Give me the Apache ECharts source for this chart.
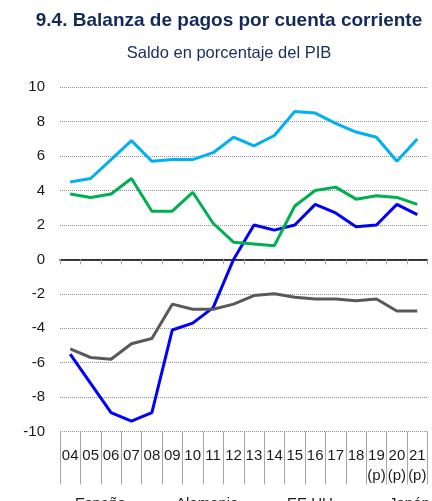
<!DOCTYPE html>
<html>
<head>
<meta charset="utf-8">
<script src="https://cdn.jsdelivr.net/npm/echarts@6/dist/echarts.min.js"></script>
<style>
  html, body { margin: 0; padding: 0; background: #fff; }
  #chart { width: 432px; height: 501px; }
</style>
</head>
<body>
<div id="chart"></div>
<script>
// Years (19-21 are provisional)
const years = ['04', '05', '06', '07', '08', '09', '10', '11', '12', '13', '14', '15', '16', '17', '18', '19\n(p)', '20\n(p)', '21\n(p)'];

// Current account balance, % of GDP
const espana   = [-5.5, -7.2, -8.9, -9.4, -8.9, -4.1, -3.7, -2.8, 0.0, 2.0, 1.7, 2.0, 3.2, 2.7, 1.9, 2.0, 3.2, 2.6];
const alemania = [4.5, 4.7, 5.8, 6.9, 5.7, 5.8, 5.8, 6.2, 7.1, 6.6, 7.2, 8.6, 8.5, 7.9, 7.4, 7.1, 5.7, 7.0];
const eeuu     = [-5.2, -5.7, -5.8, -4.9, -4.6, -2.6, -2.9, -2.9, -2.6, -2.1, -2.0, -2.2, -2.3, -2.3, -2.4, -2.3, -3.0, -3.0];
const japon    = [3.8, 3.6, 3.8, 4.7, 2.8, 2.8, 3.9, 2.1, 1.0, 0.9, 0.8, 3.1, 4.0, 4.2, 3.5, 3.7, 3.6, 3.2];

const seriesNames = ['España', 'Alemania', 'EE.UU.', 'Japón'];
const seriesColors = ['#0000ff', '#00b0f0', '#595959', '#00b050'];
const seriesData = [espana, alemania, eeuu, japon];

const FONT = '"Liberation Sans", Arial, sans-serif';

// one legend entry per slot along the bottom edge
const legendLeft = [45, 146, 257, 359];

const chart = echarts.init(document.getElementById('chart'), null, { renderer: 'canvas' });

chart.setOption({
  animation: false,
  backgroundColor: '#ffffff',
  textStyle: { fontFamily: FONT },
  title: [
    {
      text: '9.4. Balanza de pagos por cuenta corriente',
      left: 224, top: 6, textAlign: 'center',
      textStyle: { fontFamily: FONT, fontSize: 19, fontWeight: 'bold', color: '#13285b' }
    },
    {
      text: 'Saldo en porcentaje del PIB',
      left: 224, top: 40, textAlign: 'center',
      textStyle: { fontFamily: FONT, fontSize: 16.5, fontWeight: 'normal', color: '#1b2f66' }
    }
  ],
  legend: seriesNames.map((name, i) => ({
    data: [name],
    left: legendLeft[i], top: 496,
    padding: 0,
    itemWidth: 25, itemHeight: 3,
    icon: 'rect',
    textStyle: { fontFamily: FONT, fontSize: 15, color: '#1a1a1a' }
  })),
  grid: { left: 60, right: 4.5, top: 87.3, bottom: 69.5, containLabel: false },
  xAxis: [
    {
      // bottom axis: year labels with separator lines
      type: 'category',
      data: years,
      position: 'bottom',
      boundaryGap: true,
      axisLine: { show: false, onZero: false },
      axisTick: { show: true, length: 53, lineStyle: { color: '#a6a6a6', width: 1 } },
      axisLabel: {
        interval: 0, margin: 14.5, fontSize: 15, lineHeight: 20,
        color: '#1a1a1a', fontFamily: FONT
      },
      splitLine: { show: false }
    },
    {
      // zero line with short ticks
      type: 'category',
      data: years,
      position: 'bottom',
      boundaryGap: true,
      axisLine: { show: true, onZero: true, lineStyle: { color: '#000000', width: 1.5 } },
      axisTick: { show: true, length: 5, lineStyle: { color: '#a6a6a6', width: 1 } },
      axisLabel: { show: false },
      splitLine: { show: false }
    }
  ],
  yAxis: {
    type: 'value',
    min: -10, max: 10, interval: 2,
    axisLine: { show: false },
    axisTick: { show: false },
    axisLabel: { fontSize: 15, margin: 15, color: '#1a1a1a', fontFamily: FONT },
    splitLine: { show: true, lineStyle: { color: '#8c8c8c', width: 1, type: [1, 1] } }
  },
  series: seriesData.map((d, i) => ({
    name: seriesNames[i],
    type: 'line',
    xAxisIndex: 0,
    data: d,
    symbol: 'none',
    lineStyle: { color: seriesColors[i], width: 3 },
    itemStyle: { color: seriesColors[i] },
    z: 3
  }))
});
</script>
</body>
</html>
